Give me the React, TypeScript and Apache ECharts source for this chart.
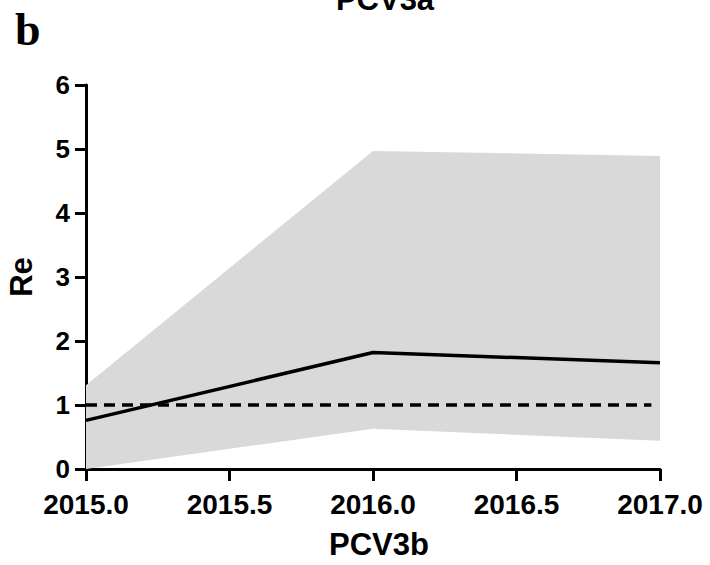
import React, { useEffect, useRef } from "react";
import * as echarts from "echarts";

const years = [2015, 2016, 2017];
const estimate = [0.76, 1.82, 1.66];
const lower = [0.0, 0.63, 0.44];
const upper = [1.31, 4.97, 4.89];
const refX = [2015, 2016.97];
const refY = [1, 1];
const xTicks = [2015.0, 2015.5, 2016.0, 2016.5, 2017.0];

const FONT = "Liberation Sans, Arial, sans-serif";

export default function App() {
  const ref = useRef<HTMLDivElement>(null);
  useEffect(() => {
    if (!ref.current) return;
    const chart = echarts.init(ref.current, null, { renderer: "svg" });
    chart.setOption({
      animation: false,
      backgroundColor: "#ffffff",
      grid: { left: 86, right: 50, top: 85, bottom: 96, containLabel: false, outerBoundsMode: "none" },
      graphic: [
        {
          type: "text",
          left: 15,
          top: 6,
          style: {
            text: "b",
            font: "bold 46px 'Liberation Serif', 'Times New Roman', serif",
            fill: "#000",
          },
        },
        {
          type: "text",
          x: 385,
          y: 15,
          style: {
            text: "PCV3a",
            font: `bold 31px ${FONT}`,
            fill: "#000",
            textAlign: "center",
            textVerticalAlign: "bottom",
          },
        },
      ],
      xAxis: {
        type: "value",
        min: 2015,
        max: 2017,
        interval: 0.5,
        name: "PCV3b",
        nameLocation: "middle",
        nameGap: 60,
        nameTextStyle: { fontFamily: FONT, fontWeight: "bold", fontSize: 31, color: "#000", padding: [0, 0, 0, 12] },
        axisLine: { show: true, lineStyle: { color: "#000", width: 3 } },
        axisTick: { show: true, inside: false, length: 12, lineStyle: { color: "#000", width: 3 } },
        axisLabel: {
          fontFamily: FONT,
          fontWeight: "bold",
          fontSize: 28,
          color: "#000",
          margin: 21,
          formatter: (v: number) => (xTicks.includes(v) ? v.toFixed(1) : ""),
        },
        splitLine: { show: false },
      },
      yAxis: {
        type: "value",
        min: 0,
        max: 6,
        interval: 1,
        name: "Re",
        nameLocation: "middle",
        nameGap: 49,
        nameRotate: 90,
        nameTextStyle: { fontFamily: FONT, fontWeight: "bold", fontSize: 31, color: "#000" },
        axisLine: { show: true, lineStyle: { color: "#000", width: 3 } },
        axisTick: { show: true, inside: false, length: 11, lineStyle: { color: "#000", width: 3 } },
        axisLabel: {
          fontFamily: FONT,
          fontWeight: "bold",
          fontSize: 26,
          color: "#000",
          margin: 16,
        },
        splitLine: { show: false },
      },
      series: [
        {
          type: "custom",
          data: [[years[0], lower[0]]],
          z: 1,
          silent: true,
          renderItem: (_params: any, api: any) => {
            const top = years.map((y, i) => api.coord([y, upper[i]]));
            const bottom = years.map((y, i) => api.coord([y, lower[i]])).reverse();
            return {
              type: "polygon",
              shape: { points: [...top, ...bottom] },
              style: { fill: "#d9d9d9", stroke: "none" },
            };
          },
        },
        {
          type: "line",
          data: refX.map((x, i) => [x, refY[i]]),
          symbol: "none",
          lineStyle: { color: "#000", width: 3.5, type: [11, 7] },
          z: 3,
        },
        {
          type: "line",
          data: years.map((y, i) => [y, estimate[i]]),
          symbol: "none",
          lineStyle: { color: "#000", width: 3.5 },
          z: 4,
        },
      ],
    });
    return () => chart.dispose();
  }, []);
  return (
    <div
      ref={ref}
      style={{ position: "fixed", left: 0, top: 0, width: 710, height: 565, background: "#fff" }}
    />
  );
}
